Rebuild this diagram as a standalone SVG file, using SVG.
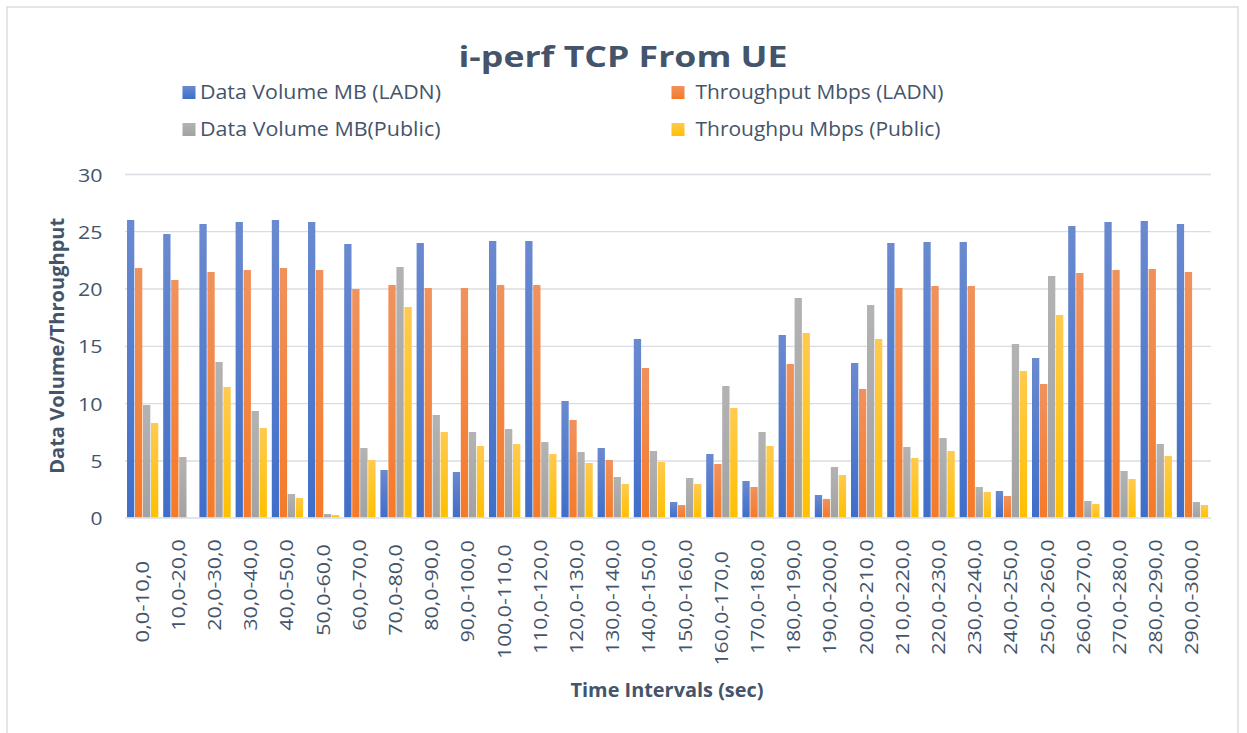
<svg xmlns="http://www.w3.org/2000/svg" width="1247" height="733" viewBox="0 0 1247 733">
<defs>
<linearGradient id="gB" x1="0" y1="0" x2="0" y2="1"><stop offset="0" stop-color="#6a8ad0"/><stop offset="1" stop-color="#3f6ec9"/></linearGradient>
<linearGradient id="gO" x1="0" y1="0" x2="0" y2="1"><stop offset="0" stop-color="#f0925d"/><stop offset="1" stop-color="#f57a28"/></linearGradient>
<linearGradient id="gG" x1="0" y1="0" x2="0" y2="1"><stop offset="0" stop-color="#b3b3b3"/><stop offset="1" stop-color="#a2a2a2"/></linearGradient>
<linearGradient id="gY" x1="0" y1="0" x2="0" y2="1"><stop offset="0" stop-color="#ffca50"/><stop offset="1" stop-color="#ffc000"/></linearGradient>
<style>
.t{font-family:"Open Sans","Liberation Sans",sans-serif;fill:#44546a}
.title{font-size:29px;font-weight:bold}
.leg{font-size:20px}
.tick{font-size:19px}
.xl{font-size:18.5px}
.ax{font-size:20px;font-weight:bold}
.grid{stroke:#d9dde3;stroke-width:1.3}
.b{fill:url(#gB)}.o{fill:url(#gO)}.g{fill:url(#gG)}.y{fill:url(#gY)}
</style>
</defs>
<rect x="0" y="0" width="1247" height="733" fill="#ffffff"/>
<rect x="7" y="7" width="1231" height="740" fill="none" stroke="#d9dde3" stroke-width="1.5"/>
<text class="t title" x="623" y="67.3" text-anchor="middle" textLength="329" lengthAdjust="spacingAndGlyphs">i-perf TCP From UE</text>
<g id="legend">
<rect class="b" x="182.5" y="86" width="13" height="13"/>
<text class="t leg" x="200" y="99" textLength="241" lengthAdjust="spacingAndGlyphs">Data Volume MB (LADN)</text>
<rect class="g" x="182.5" y="123" width="13" height="13"/>
<text class="t leg" x="200" y="136" textLength="240.5" lengthAdjust="spacingAndGlyphs">Data Volume MB(Public)</text>
<rect class="o" x="671.5" y="86" width="13" height="13"/>
<text class="t leg" x="695.5" y="99" textLength="248" lengthAdjust="spacingAndGlyphs">Throughput Mbps (LADN)</text>
<rect class="y" x="671.5" y="123" width="13" height="13"/>
<text class="t leg" x="695.5" y="136" textLength="245" lengthAdjust="spacingAndGlyphs">Throughpu Mbps (Public)</text>
</g>
<g id="gridlines">
<line class="grid" x1="125" y1="174.5" x2="1211" y2="174.5"/>
<line class="grid" x1="125" y1="231.7" x2="1211" y2="231.7"/>
<line class="grid" x1="125" y1="289" x2="1211" y2="289"/>
<line class="grid" x1="125" y1="346.3" x2="1211" y2="346.3"/>
<line class="grid" x1="125" y1="403.7" x2="1211" y2="403.7"/>
<line class="grid" x1="125" y1="461" x2="1211" y2="461"/>
</g>
<g id="yaxis">
<text class="t tick" x="102.5" y="181.5" text-anchor="end" textLength="24.5" lengthAdjust="spacingAndGlyphs">30</text>
<text class="t tick" x="102.5" y="238.7" text-anchor="end" textLength="24.5" lengthAdjust="spacingAndGlyphs">25</text>
<text class="t tick" x="102.5" y="296" text-anchor="end" textLength="24.5" lengthAdjust="spacingAndGlyphs">20</text>
<text class="t tick" x="102.5" y="353.3" text-anchor="end" textLength="24.5" lengthAdjust="spacingAndGlyphs">15</text>
<text class="t tick" x="102.5" y="410.7" text-anchor="end" textLength="24.5" lengthAdjust="spacingAndGlyphs">10</text>
<text class="t tick" x="102.5" y="468" text-anchor="end" textLength="12" lengthAdjust="spacingAndGlyphs">5</text>
<text class="t tick" x="102.5" y="525.3" text-anchor="end" textLength="12" lengthAdjust="spacingAndGlyphs">0</text>
<text class="t ax" transform="translate(63.5,345.8) rotate(-90)" text-anchor="middle" textLength="256" lengthAdjust="spacingAndGlyphs">Data Volume/Throughput</text>
</g>
<g id="bars">
<g id="c1" transform="translate(127,0)"><rect class="b" x="0" y="220" width="7.3" height="297.5"/><rect class="o" x="8" y="268" width="7.3" height="249.5"/><rect class="g" x="16" y="405" width="7.3" height="112.5"/><rect class="y" x="24" y="423" width="7.3" height="94.5"/></g>
<g id="c2" transform="translate(163.2,0)"><rect class="b" x="0" y="234" width="7.3" height="283.5"/><rect class="o" x="8" y="280" width="7.3" height="237.5"/><rect class="g" x="16" y="457" width="7.3" height="60.5"/></g>
<g id="c3" transform="translate(199.4,0)"><rect class="b" x="0" y="224" width="7.3" height="293.5"/><rect class="o" x="8" y="272" width="7.3" height="245.5"/><rect class="g" x="16" y="362" width="7.3" height="155.5"/><rect class="y" x="24" y="387" width="7.3" height="130.5"/></g>
<g id="c4" transform="translate(235.6,0)"><rect class="b" x="0" y="222" width="7.3" height="295.5"/><rect class="o" x="8" y="270" width="7.3" height="247.5"/><rect class="g" x="16" y="411" width="7.3" height="106.5"/><rect class="y" x="24" y="428" width="7.3" height="89.5"/></g>
<g id="c5" transform="translate(271.8,0)"><rect class="b" x="0" y="220" width="7.3" height="297.5"/><rect class="o" x="8" y="268" width="7.3" height="249.5"/><rect class="g" x="16" y="494" width="7.3" height="23.5"/><rect class="y" x="24" y="498" width="7.3" height="19.5"/></g>
<g id="c6" transform="translate(308,0)"><rect class="b" x="0" y="222" width="7.3" height="295.5"/><rect class="o" x="8" y="270" width="7.3" height="247.5"/><rect class="g" x="16" y="514" width="7.3" height="3.5"/><rect class="y" x="24" y="515" width="7.3" height="2.5"/></g>
<g id="c7" transform="translate(344.2,0)"><rect class="b" x="0" y="244" width="7.3" height="273.5"/><rect class="o" x="8" y="289" width="7.3" height="228.5"/><rect class="g" x="16" y="448" width="7.3" height="69.5"/><rect class="y" x="24" y="460" width="7.3" height="57.5"/></g>
<g id="c8" transform="translate(380.4,0)"><rect class="b" x="0" y="470" width="7.3" height="47.5"/><rect class="o" x="8" y="285" width="7.3" height="232.5"/><rect class="g" x="16" y="267" width="7.3" height="250.5"/><rect class="y" x="24" y="307" width="7.3" height="210.5"/></g>
<g id="c9" transform="translate(416.6,0)"><rect class="b" x="0" y="243" width="7.3" height="274.5"/><rect class="o" x="8" y="288" width="7.3" height="229.5"/><rect class="g" x="16" y="415" width="7.3" height="102.5"/><rect class="y" x="24" y="432" width="7.3" height="85.5"/></g>
<g id="c10" transform="translate(452.8,0)"><rect class="b" x="0" y="472" width="7.3" height="45.5"/><rect class="o" x="8" y="288" width="7.3" height="229.5"/><rect class="g" x="16" y="432" width="7.3" height="85.5"/><rect class="y" x="24" y="446" width="7.3" height="71.5"/></g>
<g id="c11" transform="translate(489,0)"><rect class="b" x="0" y="241" width="7.3" height="276.5"/><rect class="o" x="8" y="285" width="7.3" height="232.5"/><rect class="g" x="16" y="429" width="7.3" height="88.5"/><rect class="y" x="24" y="444" width="7.3" height="73.5"/></g>
<g id="c12" transform="translate(525.2,0)"><rect class="b" x="0" y="241" width="7.3" height="276.5"/><rect class="o" x="8" y="285" width="7.3" height="232.5"/><rect class="g" x="16" y="442" width="7.3" height="75.5"/><rect class="y" x="24" y="454" width="7.3" height="63.5"/></g>
<g id="c13" transform="translate(561.4,0)"><rect class="b" x="0" y="401" width="7.3" height="116.5"/><rect class="o" x="8" y="420" width="7.3" height="97.5"/><rect class="g" x="16" y="452" width="7.3" height="65.5"/><rect class="y" x="24" y="463" width="7.3" height="54.5"/></g>
<g id="c14" transform="translate(597.6,0)"><rect class="b" x="0" y="448" width="7.3" height="69.5"/><rect class="o" x="8" y="460" width="7.3" height="57.5"/><rect class="g" x="16" y="477" width="7.3" height="40.5"/><rect class="y" x="24" y="484" width="7.3" height="33.5"/></g>
<g id="c15" transform="translate(633.8,0)"><rect class="b" x="0" y="339" width="7.3" height="178.5"/><rect class="o" x="8" y="368" width="7.3" height="149.5"/><rect class="g" x="16" y="451" width="7.3" height="66.5"/><rect class="y" x="24" y="462" width="7.3" height="55.5"/></g>
<g id="c16" transform="translate(670,0)"><rect class="b" x="0" y="502" width="7.3" height="15.5"/><rect class="o" x="8" y="505" width="7.3" height="12.5"/><rect class="g" x="16" y="478" width="7.3" height="39.5"/><rect class="y" x="24" y="484" width="7.3" height="33.5"/></g>
<g id="c17" transform="translate(706.2,0)"><rect class="b" x="0" y="454" width="7.3" height="63.5"/><rect class="o" x="8" y="464" width="7.3" height="53.5"/><rect class="g" x="16" y="386" width="7.3" height="131.5"/><rect class="y" x="24" y="408" width="7.3" height="109.5"/></g>
<g id="c18" transform="translate(742.4,0)"><rect class="b" x="0" y="481" width="7.3" height="36.5"/><rect class="o" x="8" y="487" width="7.3" height="30.5"/><rect class="g" x="16" y="432" width="7.3" height="85.5"/><rect class="y" x="24" y="446" width="7.3" height="71.5"/></g>
<g id="c19" transform="translate(778.6,0)"><rect class="b" x="0" y="335" width="7.3" height="182.5"/><rect class="o" x="8" y="364" width="7.3" height="153.5"/><rect class="g" x="16" y="298" width="7.3" height="219.5"/><rect class="y" x="24" y="333" width="7.3" height="184.5"/></g>
<g id="c20" transform="translate(814.8,0)"><rect class="b" x="0" y="495" width="7.3" height="22.5"/><rect class="o" x="8" y="499" width="7.3" height="18.5"/><rect class="g" x="16" y="467" width="7.3" height="50.5"/><rect class="y" x="24" y="475" width="7.3" height="42.5"/></g>
<g id="c21" transform="translate(851,0)"><rect class="b" x="0" y="363" width="7.3" height="154.5"/><rect class="o" x="8" y="389" width="7.3" height="128.5"/><rect class="g" x="16" y="305" width="7.3" height="212.5"/><rect class="y" x="24" y="339" width="7.3" height="178.5"/></g>
<g id="c22" transform="translate(887.2,0)"><rect class="b" x="0" y="243" width="7.3" height="274.5"/><rect class="o" x="8" y="288" width="7.3" height="229.5"/><rect class="g" x="16" y="447" width="7.3" height="70.5"/><rect class="y" x="24" y="458" width="7.3" height="59.5"/></g>
<g id="c23" transform="translate(923.4,0)"><rect class="b" x="0" y="242" width="7.3" height="275.5"/><rect class="o" x="8" y="286" width="7.3" height="231.5"/><rect class="g" x="16" y="438" width="7.3" height="79.5"/><rect class="y" x="24" y="451" width="7.3" height="66.5"/></g>
<g id="c24" transform="translate(959.6,0)"><rect class="b" x="0" y="242" width="7.3" height="275.5"/><rect class="o" x="8" y="286" width="7.3" height="231.5"/><rect class="g" x="16" y="487" width="7.3" height="30.5"/><rect class="y" x="24" y="492" width="7.3" height="25.5"/></g>
<g id="c25" transform="translate(995.8,0)"><rect class="b" x="0" y="491" width="7.3" height="26.5"/><rect class="o" x="8" y="496" width="7.3" height="21.5"/><rect class="g" x="16" y="344" width="7.3" height="173.5"/><rect class="y" x="24" y="371" width="7.3" height="146.5"/></g>
<g id="c26" transform="translate(1032,0)"><rect class="b" x="0" y="358" width="7.3" height="159.5"/><rect class="o" x="8" y="384" width="7.3" height="133.5"/><rect class="g" x="16" y="276" width="7.3" height="241.5"/><rect class="y" x="24" y="315" width="7.3" height="202.5"/></g>
<g id="c27" transform="translate(1068.2,0)"><rect class="b" x="0" y="226" width="7.3" height="291.5"/><rect class="o" x="8" y="273" width="7.3" height="244.5"/><rect class="g" x="16" y="501" width="7.3" height="16.5"/><rect class="y" x="24" y="504" width="7.3" height="13.5"/></g>
<g id="c28" transform="translate(1104.4,0)"><rect class="b" x="0" y="222" width="7.3" height="295.5"/><rect class="o" x="8" y="270" width="7.3" height="247.5"/><rect class="g" x="16" y="471" width="7.3" height="46.5"/><rect class="y" x="24" y="479" width="7.3" height="38.5"/></g>
<g id="c29" transform="translate(1140.6,0)"><rect class="b" x="0" y="221" width="7.3" height="296.5"/><rect class="o" x="8" y="269" width="7.3" height="248.5"/><rect class="g" x="16" y="444" width="7.3" height="73.5"/><rect class="y" x="24" y="456" width="7.3" height="61.5"/></g>
<g id="c30" transform="translate(1176.8,0)"><rect class="b" x="0" y="224" width="7.3" height="293.5"/><rect class="o" x="8" y="272" width="7.3" height="245.5"/><rect class="g" x="16" y="502" width="7.3" height="15.5"/><rect class="y" x="24" y="505" width="7.3" height="12.5"/></g>
</g>
<line class="grid" x1="125" y1="518" x2="1211" y2="518" stroke-width="1.6"/>
<g id="xlabels" class="t xl" text-anchor="middle">
<text transform="translate(148.6,601.7) rotate(-90)" textLength="81.5" lengthAdjust="spacingAndGlyphs">0,0-10,0</text>
<text transform="translate(184.8,585) rotate(-90)" textLength="91.5" lengthAdjust="spacingAndGlyphs">10,0-20,0</text>
<text transform="translate(221,585) rotate(-90)" textLength="91.5" lengthAdjust="spacingAndGlyphs">20,0-30,0</text>
<text transform="translate(257.2,585) rotate(-90)" textLength="91.5" lengthAdjust="spacingAndGlyphs">30,0-40,0</text>
<text transform="translate(293.4,585) rotate(-90)" textLength="91.5" lengthAdjust="spacingAndGlyphs">40,0-50,0</text>
<text transform="translate(329.6,590) rotate(-90)" textLength="91.5" lengthAdjust="spacingAndGlyphs">50,0-60,0</text>
<text transform="translate(365.8,585) rotate(-90)" textLength="91.5" lengthAdjust="spacingAndGlyphs">60,0-70,0</text>
<text transform="translate(402,590) rotate(-90)" textLength="91.5" lengthAdjust="spacingAndGlyphs">70,0-80,0</text>
<text transform="translate(438.2,585) rotate(-90)" textLength="91.5" lengthAdjust="spacingAndGlyphs">80,0-90,0</text>
<text transform="translate(474.4,591.3) rotate(-90)" textLength="102" lengthAdjust="spacingAndGlyphs">90,0-100,0</text>
<text transform="translate(510.6,601.7) rotate(-90)" textLength="114.5" lengthAdjust="spacingAndGlyphs">100,0-110,0</text>
<text transform="translate(546.8,596.7) rotate(-90)" textLength="114.5" lengthAdjust="spacingAndGlyphs">110,0-120,0</text>
<text transform="translate(583,596.7) rotate(-90)" textLength="114.5" lengthAdjust="spacingAndGlyphs">120,0-130,0</text>
<text transform="translate(619.2,596.7) rotate(-90)" textLength="114.5" lengthAdjust="spacingAndGlyphs">130,0-140,0</text>
<text transform="translate(655.4,596.7) rotate(-90)" textLength="114.5" lengthAdjust="spacingAndGlyphs">140,0-150,0</text>
<text transform="translate(691.6,596.7) rotate(-90)" textLength="114.5" lengthAdjust="spacingAndGlyphs">150,0-160,0</text>
<text transform="translate(727.8,608.3) rotate(-90)" textLength="114.5" lengthAdjust="spacingAndGlyphs">160,0-170,0</text>
<text transform="translate(764,596.7) rotate(-90)" textLength="114.5" lengthAdjust="spacingAndGlyphs">170,0-180,0</text>
<text transform="translate(800.2,596.7) rotate(-90)" textLength="114.5" lengthAdjust="spacingAndGlyphs">180,0-190,0</text>
<text transform="translate(836.4,597) rotate(-90)" textLength="115.5" lengthAdjust="spacingAndGlyphs">190,0-200,0</text>
<text transform="translate(872.6,597) rotate(-90)" textLength="115.5" lengthAdjust="spacingAndGlyphs">200,0-210,0</text>
<text transform="translate(908.8,597) rotate(-90)" textLength="115.5" lengthAdjust="spacingAndGlyphs">210,0-220,0</text>
<text transform="translate(945,597) rotate(-90)" textLength="115.5" lengthAdjust="spacingAndGlyphs">220,0-230,0</text>
<text transform="translate(981.2,597) rotate(-90)" textLength="115.5" lengthAdjust="spacingAndGlyphs">230,0-240,0</text>
<text transform="translate(1017.4,597) rotate(-90)" textLength="115.5" lengthAdjust="spacingAndGlyphs">240,0-250,0</text>
<text transform="translate(1053.6,597) rotate(-90)" textLength="115.5" lengthAdjust="spacingAndGlyphs">250,0-260,0</text>
<text transform="translate(1089.8,597) rotate(-90)" textLength="115.5" lengthAdjust="spacingAndGlyphs">260,0-270,0</text>
<text transform="translate(1126,597) rotate(-90)" textLength="115.5" lengthAdjust="spacingAndGlyphs">270,0-280,0</text>
<text transform="translate(1162.2,597) rotate(-90)" textLength="115.5" lengthAdjust="spacingAndGlyphs">280,0-290,0</text>
<text transform="translate(1198.4,597) rotate(-90)" textLength="115.5" lengthAdjust="spacingAndGlyphs">290,0-300,0</text>
</g>
<text class="t ax" x="667" y="697" text-anchor="middle" textLength="193" lengthAdjust="spacingAndGlyphs">Time Intervals (sec)</text>
</svg>
